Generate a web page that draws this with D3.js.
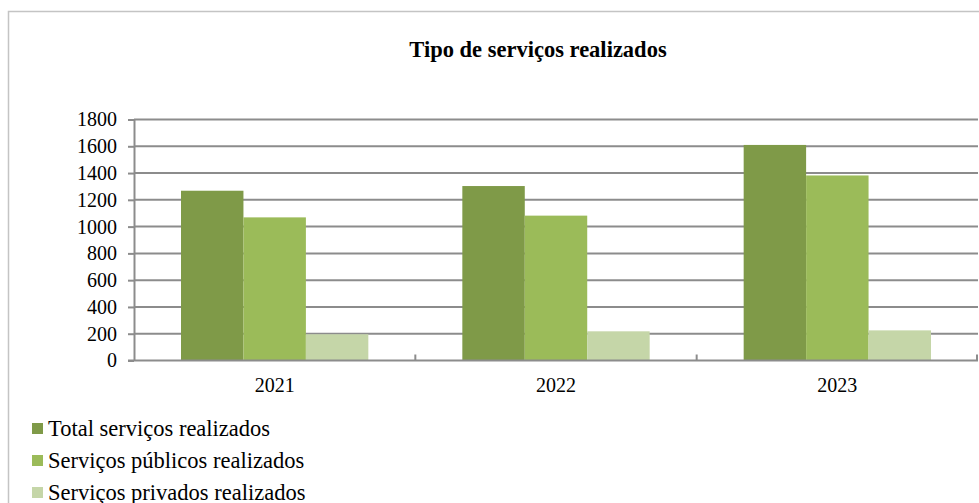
<!DOCTYPE html>
<html>
<head>
<meta charset="utf-8">
<script src="https://cdn.jsdelivr.net/npm/d3@7"></script>
<style>
  body { margin: 0; background: #fff; }
  svg text { font-family: "Liberation Serif", "Times New Roman", "DejaVu Serif", serif; fill: #000; }
</style>
</head>
<body>
<div id="chart"></div>
<script>
// data
var years = ["2021", "2022", "2023"];
var seriesNames = ["Total serviços realizados", "Serviços públicos realizados", "Serviços privados realizados"];
var totalServicos = [1268, 1303, 1610];
var publicosServicos = [1069, 1082, 1382];
var privadosServicos = [196, 218, 225];
var yTicks = [0, 200, 400, 600, 800, 1000, 1200, 1400, 1600, 1800];
var colors = ["#7f9a48", "#9bbb59", "#c5d6a8"];

var width = 979, height = 503;
var margin = { top: 119.5, right: 1, bottom: 142.5, left: 134 };
var serif = "'Liberation Serif', 'Times New Roman', serif";

var svg = d3.select("#chart").append("svg")
    .attr("width", width)
    .attr("height", height)
    .attr("font-family", serif);

// chart frame (runs off the right and bottom edges)
svg.append("rect")
    .attr("x", 8.5).attr("y", 11.5)
    .attr("width", 1000).attr("height", 520)
    .attr("fill", "none")
    .attr("stroke", "#c4c4c4")
    .attr("stroke-width", 1.5);

svg.append("text")
    .attr("x", 538).attr("y", 57)
    .attr("text-anchor", "middle")
    .style("font-size", "22.5px")
    .style("font-weight", "bold")
    .text("Tipo de serviços realizados");

var values = [totalServicos, publicosServicos, privadosServicos];
var rows = years.map(function(y, i) {
    return { year: y, vals: values.map(function(v) { return v[i]; }) };
});

var x0 = d3.scaleBand()
    .domain(years)
    .range([margin.left, width - margin.right]);

var x1 = d3.scaleBand()
    .domain(d3.range(seriesNames.length))
    .range([47, x0.bandwidth() - 47]);

var y = d3.scaleLinear()
    .domain([0, 1800])
    .range([height - margin.bottom, margin.top]);

// gridlines
svg.append("g")
    .selectAll("line")
    .data(yTicks.slice(1))
    .enter().append("line")
    .attr("x1", margin.left)
    .attr("x2", width - margin.right)
    .attr("y1", function(d) { return y(d); })
    .attr("y2", function(d) { return y(d); })
    .attr("stroke", "#8c8c8c")
    .attr("stroke-width", 2);

// bars
var groups = svg.append("g").selectAll("g")
    .data(rows)
    .enter().append("g")
    .attr("transform", function(d) { return "translate(" + x0(d.year) + ",0)"; });

groups.selectAll("rect")
    .data(function(d) { return d.vals; })
    .enter().append("rect")
    .attr("x", function(d, i) { return x1(i); })
    .attr("y", function(d) { return y(d); })
    .attr("width", x1.bandwidth())
    .attr("height", function(d) { return y(0) - y(d); })
    .attr("fill", function(d, i) { return colors[i]; });

// y axis
var yAxis = svg.append("g")
    .attr("transform", "translate(" + margin.left + ",0)")
    .call(d3.axisLeft(y).tickValues(yTicks).tickFormat(d3.format("d"))
        .tickSize(6).tickPadding(11).tickSizeOuter(0));
yAxis.attr("font-family", serif).attr("font-size", 20);
yAxis.select(".domain").attr("stroke", "#8c8c8c").attr("stroke-width", 2);
yAxis.selectAll(".tick line").attr("stroke", "#8c8c8c").attr("stroke-width", 2);
yAxis.selectAll("text").attr("fill", "#000");

// x axis: ticks between categories, pointing up
var bounds = years.map(function(d) { return x0(d) + x0.bandwidth(); });
var xAxisG = svg.append("g");
xAxisG.append("line")
    .attr("x1", margin.left - 6).attr("x2", width - margin.right)
    .attr("y1", y(0)).attr("y2", y(0))
    .attr("stroke", "#8c8c8c").attr("stroke-width", 2);
xAxisG.selectAll(".xtick")
    .data(bounds)
    .enter().append("line")
    .attr("class", "xtick")
    .attr("x1", function(d) { return Math.min(d, width - 2); })
    .attr("x2", function(d) { return Math.min(d, width - 2); })
    .attr("y1", y(0)).attr("y2", y(0) - 6)
    .attr("stroke", "#8c8c8c").attr("stroke-width", 2);
xAxisG.selectAll(".xlabel")
    .data(years)
    .enter().append("text")
    .attr("class", "xlabel")
    .attr("x", function(d) { return x0(d) + x0.bandwidth() / 2; })
    .attr("y", 391.5)
    .attr("text-anchor", "middle")
    .style("font-size", "20px")
    .text(function(d) { return d; });

// legend (last row is cut by the bottom edge, as in the original)
var legend = svg.append("g").selectAll("g")
    .data(seriesNames)
    .enter().append("g")
    .attr("transform", function(d, i) { return "translate(32," + (423 + i * 32) + ")"; });

legend.append("rect")
    .attr("width", 11).attr("height", 11)
    .attr("fill", function(d, i) { return colors[i]; });

legend.append("text")
    .attr("x", 16).attr("y", 13)
    .style("font-size", "22.5px")
    .text(function(d) { return d; });
</script>
</body>
</html>
